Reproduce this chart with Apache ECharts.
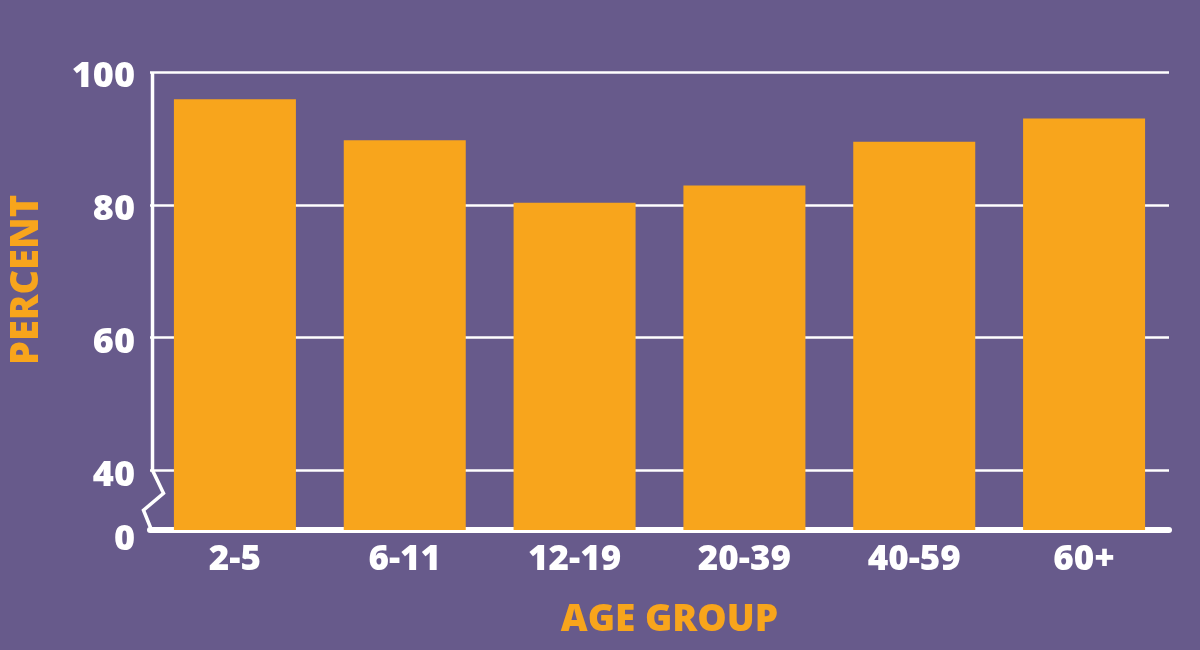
<!DOCTYPE html>
<html>
<head>
<meta charset="utf-8">
<title>Percent by age group</title>
<script src="https://cdn.jsdelivr.net/npm/echarts@6/dist/echarts.min.js"></script>
<style>
  html, body { margin: 0; padding: 0; background: #675a8b; }
  #vis { width: 1200px; height: 650px; }
</style>
</head>
<body>
<div id="vis"></div>
<script>
// data
const ageGroups = ['2-5', '6-11', '12-19', '20-39', '40-59', '60+'];
const percents = [95.9, 89.7, 80.3, 82.9, 89.5, 93.0];
const gridValues = [40, 60, 80, 100];
// axis is broken below 40, the bottom of the plot reads as 0
const yBreakMin = 31;
const yLabelValues = [yBreakMin, 40, 60, 80, 100];

const bg = '#675a8b';
const orange = '#f8a51c';
const font = 'Open Sans';
const heavy = 800;

const chart = echarts.init(document.getElementById('vis'), null, { renderer: 'canvas' });

const option = {
  backgroundColor: bg,
  animation: false,
  grid: { left: 149, right: 31, top: 72, bottom: 120 },
  xAxis: {
    type: 'category',
    data: ageGroups,
    axisLine: { show: true, lineStyle: { color: '#fff', width: 6 } },
    axisTick: { show: false },
    axisLabel: {
      color: '#fff', fontSize: 35, fontWeight: heavy, fontFamily: font, margin: 13
    },
    name: 'AGE GROUP',
    nameLocation: 'middle',
    nameGap: 72,
    nameTextStyle: {
      color: orange, fontSize: 37, fontWeight: heavy, fontFamily: font,
      padding: [0, 0, 0, 20]
    }
  },
  yAxis: {
    type: 'value',
    min: yBreakMin,
    max: 100,
    axisLine: { show: false },
    axisTick: { show: false },
    splitLine: { show: false },
    axisLabel: {
      customValues: yLabelValues,
      margin: 15,
      color: '#fff', fontSize: 36, fontWeight: heavy, fontFamily: font,
      formatter: (v) => (v === yBreakMin ? '{zero|0}' : '{n|' + v + '}'),
      rich: {
        n: { color: '#fff', fontSize: 36, fontWeight: heavy, fontFamily: font, padding: [10, 0, 0, 0] },
        zero: { color: '#fff', fontSize: 36, fontWeight: heavy, fontFamily: font, padding: [20, 0, 0, 0] }
      }
    },
    name: 'PERCENT',
    nameLocation: 'middle',
    nameRotate: 90,
    nameGap: 104,
    nameTextStyle: {
      color: orange, fontSize: 38, fontWeight: heavy, fontFamily: font,
      padding: [0, 0, 0, 42]
    }
  },
  series: [
    {
      type: 'bar',
      data: percents,
      barWidth: 122,
      z: 3,
      itemStyle: { color: orange },
      markLine: {
        silent: true,
        z: 1,
        symbol: 'none',
        label: { show: false },
        lineStyle: { color: '#fff', width: 2.5, type: 'solid' },
        data: gridValues.map((v) => ({ yAxis: v }))
      }
    }
  ]
};

chart.setOption(option);

// left axis line with the zigzag break between 40 and 0
function drawBrokenAxis() {
  const top = chart.convertToPixel({ gridIndex: 0 }, [0, 100]);
  const at40 = chart.convertToPixel({ gridIndex: 0 }, [0, 40]);
  const bottom = chart.convertToPixel({ gridIndex: 0 }, [0, yBreakMin]);
  const x0 = chart.getModel().getComponent('grid').coordinateSystem.getRect().x + 2.5;
  const pts = [
    [x0, top[1]],
    [x0, at40[1]],
    [x0 + 11, at40[1] + 23],
    [x0 - 9, at40[1] + 40],
    [x0 - 1, bottom[1]]
  ];
  chart.setOption({
    graphic: [{
      type: 'polyline',
      z: 10,
      shape: { points: pts },
      style: { stroke: '#fff', lineWidth: 3.5, fill: null, lineJoin: 'miter' }
    }]
  });
}
drawBrokenAxis();
</script>
</body>
</html>
